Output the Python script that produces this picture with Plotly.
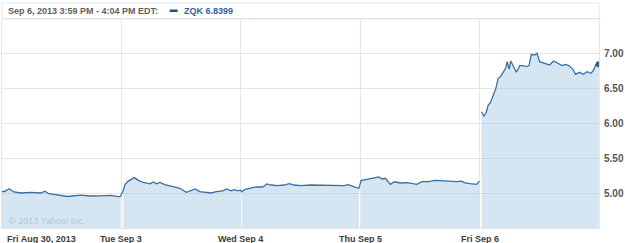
import plotly.graph_objects as go

# ---- data (minutes after 9:30 open, price) per trading day ----
day_labels = ["Fri Aug 30, 2013", "Tue Sep 3", "Wed Sep 4", "Thu Sep 5", "Fri Sep 6"]
session_minutes = 390

d0_min = [0, 10, 23, 39, 62, 94, 127, 140, 153, 185, 215, 257, 289, 322, 354, 380, 387]
d0_px = [5.02, 5.025, 5.06, 5.015, 5.00, 5.01, 5.00, 5.025, 4.99, 4.97, 4.95, 4.97, 4.957, 4.96, 4.965, 4.947, 4.95]

d1_min = [6.5, 12, 22.75, 42.25, 55.25, 71.5, 93.3, 104, 114.7, 125.7, 141.9, 169, 190.7, 212.2, 228.5,
          241.5, 255.8, 277.2, 293.5, 309.7, 331.5, 342.2, 358.5, 369.5, 380.25, 388.4]
d1_px = [5.043, 5.124, 5.17, 5.22, 5.18, 5.15, 5.13, 5.157, 5.13, 5.15, 5.12, 5.095, 5.067, 5.01, 5.039,
         5.057, 5.019, 5.01, 5.0, 5.02, 5.029, 5.057, 5.03, 5.047, 5.03, 5.04]

d2_min = [3.25, 12, 28.3, 49.7, 71.5, 85.5, 98.5, 120.3, 142, 158.3, 174.5, 196, 228.5, 261, 293.5,
          315.3, 337, 351, 364, 378, 385.7]
d2_px = [5.019, 5.048, 5.067, 5.086, 5.086, 5.129, 5.114, 5.105, 5.114, 5.133, 5.114, 5.105, 5.114, 5.11,
         5.11, 5.1, 5.105, 5.12, 5.095, 5.076, 5.067]

d3_min = [3.25, 17.2, 33.5, 49.7, 60.8, 71.5, 82.2, 90, 98.5, 111.5, 131, 152.75, 174.5, 185.25, 201.5,
          223.3, 244.7, 266.5, 293.5, 315.25, 331.5, 342.2, 358.5, 380.25, 389]
d3_px = [5.18, 5.19, 5.2, 5.22, 5.229, 5.2, 5.21, 5.162, 5.124, 5.16, 5.143, 5.148, 5.133, 5.124, 5.162,
         5.162, 5.18, 5.176, 5.17, 5.162, 5.17, 5.143, 5.133, 5.124, 5.17]

d4_min = [6.5, 14, 20.5, 28.3, 35.75, 44.5, 53, 60.8, 68.25, 77, 85.5, 90, 96.5, 101.7, 109.5, 120.25,
          131, 142, 152.75, 161.5, 169, 179.7, 187.5, 196, 212.2, 228.5, 241.5, 255.8, 269.75, 280.5,
          291.5, 304.5, 313, 326, 339, 351, 364, 371.5, 380.25, 389]
d4_px = [6.161, 6.10, 6.139, 6.257, 6.295, 6.4, 6.495, 6.638, 6.662, 6.724, 6.79, 6.876, 6.771, 6.886,
         6.819, 6.724, 6.82, 6.82, 6.805, 6.82, 6.981, 6.971, 6.995, 6.876, 6.852, 6.829, 6.886, 6.852,
         6.82, 6.838, 6.82, 6.771, 6.695, 6.724, 6.695, 6.733, 6.71, 6.752, 6.838, 6.8399]

y_ticks = [5.0, 5.5, 6.0, 6.5, 7.0]
symbol = "ZQK"
header = "Sep 6, 2013 3:59 PM - 4:04 PM EDT:"

days_min = [d0_min, d1_min, d2_min, d3_min, d4_min]
days_px = [d0_px, d1_px, d2_px, d3_px, d4_px]

LINE = "#3a6ea5"
FILL = "rgba(150,190,222,0.40)"
FONT = "Liberation Sans"

fig = go.Figure()

# fills per day (separate areas)
for i, (mins, pxs) in enumerate(zip(days_min, days_px)):
    xs = [i + m / session_minutes for m in mins]
    fig.add_trace(go.Scatter(x=xs, y=pxs, mode="lines", line=dict(width=0),
                             fill="tozeroy", fillcolor=FILL, hoverinfo="skip", showlegend=False))

# line: first four days connected, last day separate
lx, ly = [], []
for i in range(4):
    lx += [i + m / session_minutes for m in days_min[i]]
    ly += days_px[i]
lx.append(None); ly.append(None)
lx += [4 + m / session_minutes for m in d4_min]
ly += d4_px
fig.add_trace(go.Scatter(x=lx, y=ly, mode="lines", line=dict(color=LINE, width=1.3),
                         connectgaps=False, showlegend=False))
# end marker
fig.add_trace(go.Scatter(x=[4 + d4_min[-1] / session_minutes], y=[d4_px[-1]], mode="markers",
                         marker=dict(color="#2a5d96", size=6), showlegend=False))

annotations = []
for i, lab in enumerate(day_labels):
    annotations.append(dict(x=i, y=0, xref="x", yref="paper", yshift=-4, text="<b>%s</b>" % lab,
                            showarrow=False, xanchor="left" if i == 0 else "center", yanchor="top",
                            xshift=3 if i == 0 else 0,
                            font=dict(family=FONT, size=9, color="#3c3c3c")))
annotations.append(dict(x=0, y=1, xref="paper", yref="paper", yshift=8, xshift=4,
                        text="<b>%s</b>" % header, showarrow=False, xanchor="left", yanchor="middle",
                        font=dict(family=FONT, size=9, color="#5e5e5e")))
annotations.append(dict(x=0, y=1, xref="paper", yref="paper", yshift=8, xshift=180,
                        text="<b>%s %.4f</b>" % (symbol, d4_px[-1]), showarrow=False, xanchor="left",
                        yanchor="middle", font=dict(family=FONT, size=9, color="#2f62a0")))
annotations.append(dict(x=0, y=0, xref="paper", yref="paper", yshift=7, xshift=5,
                        text="© 2013 Yahoo! Inc.", showarrow=False, xanchor="left", yanchor="middle",
                        font=dict(family=FONT, size=9, color="#b9c7d3")))

shapes = [
    # header box
    dict(type="rect", xref="paper", yref="paper", x0=0, x1=1, y0=1, y1=1 + 16 / 209,
         line=dict(color="#e3e8ee", width=1), fillcolor="rgba(0,0,0,0)"),
    # legend swatch
    dict(type="rect", xref="paper", yref="paper", x0=168.5 / 600, x1=176.5 / 600,
         y0=1 + 7 / 209, y1=1 + 9.5 / 209, line=dict(width=0), fillcolor="#1f4f86"),
]

fig.update_layout(
    width=625, height=243,
    margin=dict(l=1, r=24, t=19, b=15),
    paper_bgcolor="white", plot_bgcolor="white",
    showlegend=False,
    annotations=annotations,
    shapes=shapes,
    xaxis=dict(range=[0, 5], tickvals=[0, 1, 2, 3, 4], showticklabels=False, showgrid=True,
               gridcolor="#dfe6ed", gridwidth=1, zeroline=False, showline=True, mirror=True,
               linecolor="#e0e6ec", fixedrange=True),
    yaxis=dict(range=[4.5, 7.486], side="right", tickvals=y_ticks, tickformat=".2f",
               showgrid=True, gridcolor="#dfe6ed", gridwidth=1, zeroline=False, showline=True,
               mirror=True, linecolor="#e0e6ec", ticks="", ticklabelstandoff=2,
               tickfont=dict(family=FONT, size=10, color="#555555", weight="bold")),
)

fig.write_html("out.html")
